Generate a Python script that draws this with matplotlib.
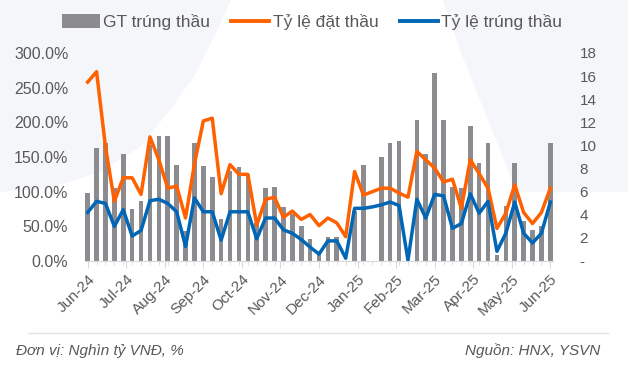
import matplotlib
matplotlib.use("Agg")
import matplotlib.pyplot as plt
from matplotlib.patches import Patch, Polygon
from matplotlib.lines import Line2D
from matplotlib.ticker import FuncFormatter, FixedLocator
import numpy as np

plt.rcParams['font.family'] = ['Liberation Sans', 'DejaVu Sans']

month_labels = ["Jun-24", "Jul-24", "Aug-24", "Sep-24", "Oct-24", "Nov-24", "Dec-24",
                "Jan-25", "Feb-25", "Mar-25", "Apr-25", "May-25", "Jun-25"]

gt_trung_thau = [5.9, 9.8, 10.2, 6.3, 9.3, 4.5, 5.2, 10.0, 10.8, 10.8, 8.3, 2.6, 10.2,
                 8.2, 7.3, 3.6, 7.8, 8.1, 7.5, 3.3, 6.3, 6.4, 4.7, 4.1, 3.0, 1.9, 0.8,
                 2.1, 2.1, 0.0, 4.3, 8.3, 0.0, 9.0, 10.2, 10.4, 0.0, 12.2, 9.3, 16.3,
                 12.2, 6.4, 6.3, 11.7, 8.5, 10.2, 0.5, 4.8, 8.45, 3.5, 2.7, 3.0, 10.2]

ty_le_dat_thau = [258, 273, 165, 86, 120, 120, 96, 179, 146, 105, 108, 62, 140,
                  202, 206, 97, 139, 125, 125, 52, 89, 92, 63, 72, 60, 67, 51,
                  62, 55, 35, 129, 95, 100, 105, 105, 98, 92, 158, 146, 134,
                  114, 118, 76, 146, 126, 105, 47, 69, 110, 70, 54, 70, 105]

ty_le_trung_thau = [70, 86, 83, 50, 74, 36, 44, 87, 89, 83, 71, 21, 91,
                    71, 71, 30, 71, 71, 71, 32, 62, 62, 45, 40, 31, 20, 10,
                    29, 29, 4, 76, 76, 78, 81, 85, 80, 1, 89, 62, 96,
                    94, 47, 54, 97, 69, 86, 14, 40, 85, 40, 26, 40, 85]

right_ticks = [0, 2, 4, 6, 8, 10, 12, 14, 16, 18]
left_ticks = [0, 50, 100, 150, 200, 250, 300]

W, H = 628, 370
fig = plt.figure(figsize=(W / 100, H / 100), dpi=100)
fig.patch.set_facecolor("white")

def fp(pts):
    return [(px / W, 1 - py / H) for px, py in pts]

bg = "#f4f6fa"
fig.patches.append(Polygon(fp([(0, 0), (231, 0), (215, 35), (195, 75), (170, 110), (140, 147),
                               (100, 172), (50, 188), (0, 192)]),
                           closed=True, transform=fig.transFigure, facecolor=bg,
                           edgecolor="none", zorder=-10))
fig.patches.append(Polygon(fp([(443, 0), (628, 0), (628, 192), (517, 192), (500, 150),
                               (480, 100), (460, 50)]),
                           closed=True, transform=fig.transFigure, facecolor=bg,
                           edgecolor="none", zorder=-10))

x = np.arange(len(gt_trung_thau))
n = len(x)

ax = fig.add_axes([85 / W, 1 - 261 / H, (553 - 85) / W, (261 - 53) / H])
ax.patch.set_alpha(0)
ax.bar(x, gt_trung_thau, width=0.52, color="#8c8c90", zorder=2)
ax.set_ylim(0, 18)
ax.set_xlim(-0.3, n - 1 + 0.3)

ax2 = ax.twinx()
ax2.patch.set_alpha(0)

ax.yaxis.tick_right()
ax.set_yticks(right_ticks)
ax.yaxis.set_major_formatter(FuncFormatter(lambda v, p: "-" if v == 0 else f"{int(v)}"))
ax.tick_params(axis="y", length=0, pad=19, labelsize=11, labelcolor="#595959")

major_pos = [(n - 1) * i / 12 for i in range(13)]
ax.xaxis.set_major_locator(FixedLocator(major_pos))
ax.xaxis.set_minor_locator(FixedLocator(list(x)))
ax.set_xticklabels(month_labels, rotation=45, ha="right", rotation_mode="anchor")
ax.tick_params(axis="x", which="major", length=5, color="#d9d9d9", labelsize=11,
               labelcolor="#595959", pad=3)
ax.tick_params(axis="x", which="minor", length=3, color="#d9d9d9")
for s in ["top", "left", "right"]:
    ax.spines[s].set_visible(False)
ax.spines["bottom"].set_color("#d9d9d9")

ax2.plot(x, ty_le_dat_thau, color="#ff6100", lw=2.5, solid_joinstyle="round", zorder=3)
ax2.plot(x, ty_le_trung_thau, color="#0066b5", lw=2.5, solid_joinstyle="round", zorder=4)
ax2.set_ylim(0, 300)
ax2.yaxis.tick_left()
ax2.set_yticks(left_ticks)
ax2.yaxis.set_major_formatter(FuncFormatter(lambda v, p: f"{v:.1f}%"))
ax2.tick_params(axis="y", length=0, pad=12, labelsize=11.5, labelcolor="#595959")
for s in ["top", "left", "right", "bottom"]:
    ax2.spines[s].set_visible(False)

handles = [Patch(facecolor="#8c8c90", edgecolor="none"),
           Line2D([0], [0], color="#ff6100", lw=2.8),
           Line2D([0], [0], color="#0066b5", lw=2.8)]
labels = ["GT trúng thầu", "Tỷ lệ đặt thầu", "Tỷ lệ trúng thầu"]
leg = fig.legend(handles, labels, loc="center", bbox_to_anchor=(312 / W, 1 - 22 / H),
                 ncol=3, frameon=False, fontsize=12.5, handlelength=2.2,
                 handleheight=0.9, handletextpad=0.2, columnspacing=1.2,
                 labelcolor="#595959")

fig.add_artist(Line2D([28 / W, 608 / W], [1 - 333 / H, 1 - 333 / H],
                      transform=fig.transFigure, color="#e3e3e3", lw=1))
fig.text(16 / W, 1 - 351 / H, "Đơn vị: Nghìn tỷ VNĐ, %", fontsize=11, style="italic",
         color="#595959", va="center", ha="left")
fig.text(600 / W, 1 - 351 / H, "Nguồn: HNX, YSVN", fontsize=11, style="italic",
         color="#595959", va="center", ha="right")

fig.savefig("out.png", dpi=100)
